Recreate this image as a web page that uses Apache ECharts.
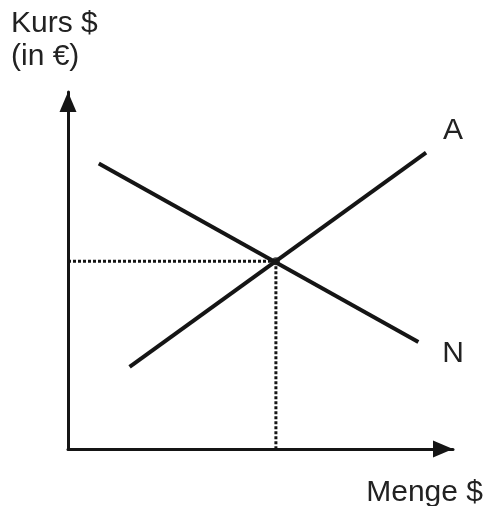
<!DOCTYPE html>
<html>
<head>
<meta http-equiv="content-type" content="text/html; charset=utf-8"/>
<title>Devisenmarkt</title>
<style type="text/css">body,html{width:100%;height:100%;margin:0;background:#fff}#chart{width:484px;height:506px}</style>
<script src="https://cdn.jsdelivr.net/npm/echarts@6/dist/echarts.min.js"></script>
</head>
<body>
<div id="chart"></div>
<script>
	// Angebot (A) und Nachfrage (N), Punkte in Achsen-Einheiten 0..100
	var angebot = [[16, 23], [93, 83]];
	var nachfrage = [[8, 80], [91, 30]];
	var gleichgewicht = [54, 52.6];
	var hilfsH = [[0, 52.6], [54, 52.6]];
	var hilfsV = [[54, 52.6], [54, 0]];
	var labels = { angebot: "A", nachfrage: "N", xName: "Menge $", yName: "Kurs $\n(in €)" };

	var ink = "#151515";
	var font = "Liberation Sans, Arial, sans-serif";
	var myChart = echarts.init(document.getElementById("chart"), null, { renderer: "canvas" });

	var axisCommon = {
		type: "value",
		min: 0,
		max: 100,
		splitLine: { show: false },
		axisTick: { show: false },
		axisLabel: { show: false },
		axisLine: {
			show: true,
			onZero: false,
			symbol: ["none", "triangle"],
			symbolSize: [17, 20],
			symbolOffset: [0, -10],
			lineStyle: { color: ink, width: 3 }
		}
	};

	var option = {
		animation: false,
		backgroundColor: "#fff",
		grid: { left: 68, top: 92, right: 31, bottom: 57 },
		xAxis: axisCommon,
		yAxis: axisCommon,
		graphic: [
			{ type: "text", left: 11, top: 7, style: { text: labels.yName, font: "30px " + font, fill: "#222", lineHeight: 33 } },
			{ type: "text", right: 1, top: 478, style: { text: labels.xName, font: "30px " + font, fill: "#222" } }
		],
		series: [
			{
				type: "line", data: hilfsH, symbol: "none", silent: true,
				lineStyle: { color: ink, width: 3, type: [3, 2] }
			},
			{
				type: "line", data: hilfsV, symbol: "none", silent: true,
				lineStyle: { color: ink, width: 3, type: [3, 2] }
			},
			{
				type: "line", data: nachfrage, symbol: "none",
				lineStyle: { color: ink, width: 4 },
				endLabel: { show: true, formatter: labels.nachfrage, offset: [16, 12], fontSize: 30, fontFamily: font, color: "#222" }
			},
			{
				type: "line", data: angebot, symbol: "none",
				lineStyle: { color: ink, width: 4 },
				endLabel: { show: true, formatter: labels.angebot, offset: [9, -22], fontSize: 30, fontFamily: font, color: "#222" }
			},
			{
				type: "scatter", data: [gleichgewicht], symbolSize: 8,
				itemStyle: { color: ink }
			}
		]
	};
	myChart.setOption(option);
</script>
</body>
</html>
